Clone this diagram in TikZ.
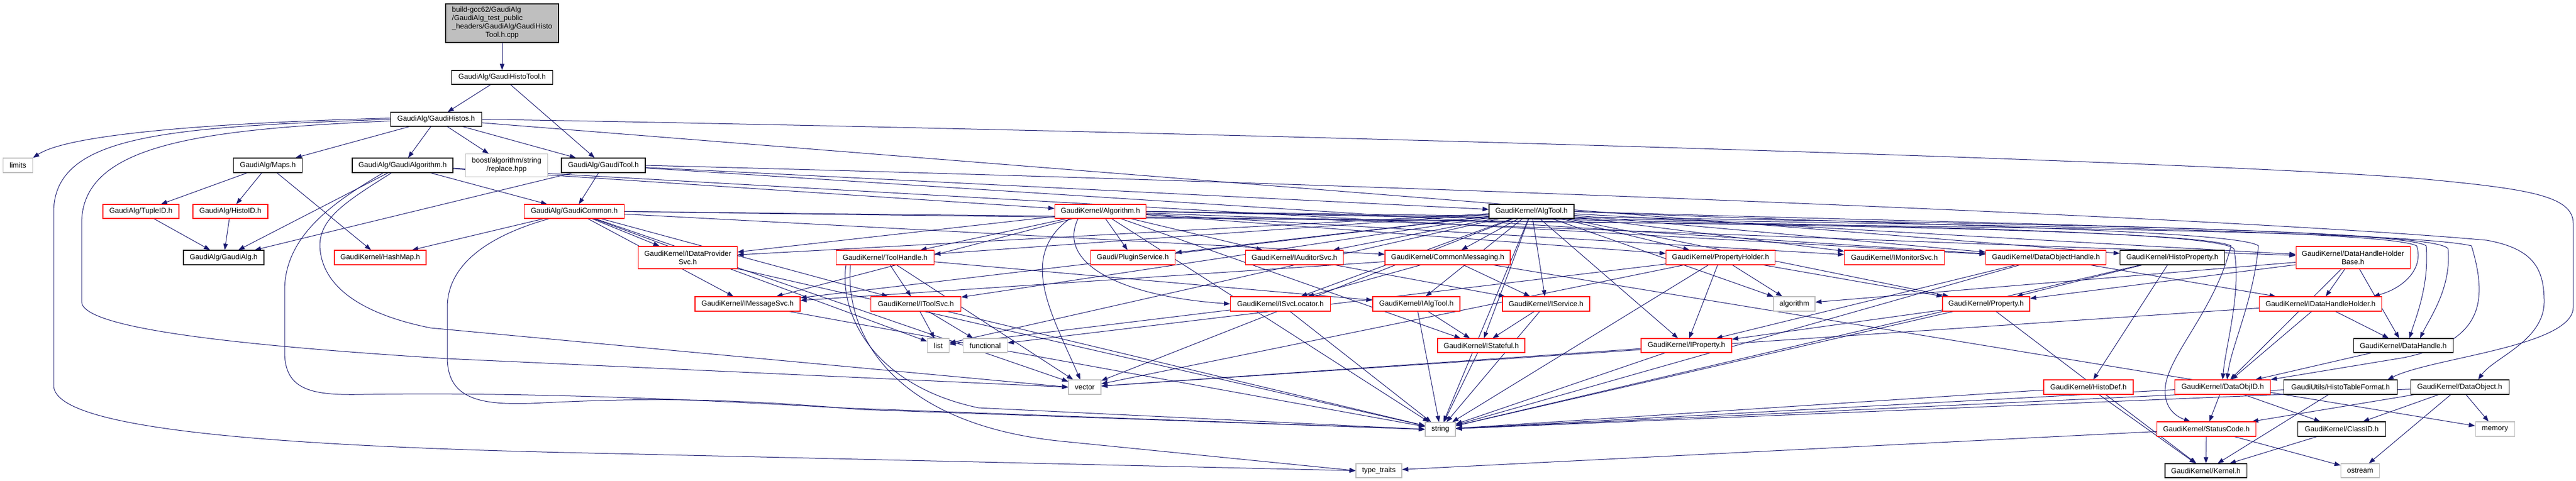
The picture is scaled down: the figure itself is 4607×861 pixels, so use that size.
\documentclass[tikz,border=0pt]{standalone}
\usepackage{fontspec}
\setmainfont{Liberation Sans}
\usetikzlibrary{arrows.meta,backgrounds}
\definecolor{eb}{HTML}{191970}
\definecolor{gb}{HTML}{BFBFBF}
\definecolor{rb}{HTML}{FF0000}
\begin{document}
\begin{tikzpicture}[x=1pt,y=-1pt,
  box/.style={draw, fill=white, line width=1.1pt, inner sep=0pt, font=\fontsize{13}{15}\selectfont, minimum height=25pt, align=center},
  blk/.style={box, draw=black},
  rd/.style={box, draw=rb},
  gry/.style={box, draw=gb},
  rootst/.style={box, draw=black, fill=gb},
  dep/.style={draw=eb, line width=1pt, -{Triangle[length=11pt,width=8pt]}}]
\useasboundingbox (0,0) rectangle (4607,861);
% nodes
\node[rootst, minimum width=202pt, minimum height=69pt] (root) at (898,41.5) {\begin{tabular}{@{}l@{}}build-gcc62/GaudiAlg\\/GaudiAlg\_test\_public\\\_headers/GaudiAlg/GaudiHisto\\\multicolumn{1}{@{}c@{}}{Tool.h.cpp}\end{tabular}};
\node[blk, minimum width=181pt] (ght) at (898,138.5) {GaudiAlg/GaudiHistoTool.h};
\node[blk, minimum width=163pt] (gh) at (780,213.5) {GaudiAlg/GaudiHistos.h};
\node[gry, minimum width=53pt, minimum height=26pt] (lim) at (32,296) {limits};
\node[blk, minimum width=123pt, minimum height=26pt] (maps) at (479,296) {GaudiAlg/Maps.h};
\node[blk, minimum width=180pt, minimum height=26pt] (galgo) at (720,296) {GaudiAlg/GaudiAlgorithm.h};
\node[gry, minimum width=147pt, minimum height=41pt] (boost) at (906,296) {boost/algorithm/string\\/replace.hpp};
\node[blk, minimum width=150pt, minimum height=26pt] (gt) at (1079,296) {GaudiAlg/GaudiTool.h};
\node[rd, minimum width=136pt] (tid) at (252,378.5) {GaudiAlg/TupleID.h};
\node[rd, minimum width=134pt] (hid) at (412,378.5) {GaudiAlg/HistoID.h};
\node[rd, minimum width=179pt] (gc) at (1027,378.5) {GaudiAlg/GaudiCommon.h};
\node[rd, minimum width=163pt] (alg) at (1968,378.5) {GaudiKernel/Algorithm.h};
\node[blk, minimum width=152pt] (atool) at (2739,378.5) {GaudiKernel/AlgTool.h};
\node[blk, minimum width=144pt, minimum height=26pt] (galg) at (400,461) {GaudiAlg/GaudiAlg.h};
\node[rd, minimum width=164pt, minimum height=26pt] (hmap) at (680,461) {GaudiKernel/HashMap.h};
\node[rd, minimum width=177pt, minimum height=40pt] (idps) at (1230,461) {GaudiKernel/IDataProvider\\Svc.h};
\node[rd, minimum width=175pt, minimum height=26pt] (th) at (1583,461) {GaudiKernel/ToolHandle.h};
\node[rd, minimum width=151pt, minimum height=26pt] (plug) at (2026,461) {Gaudi/PluginService.h};
\node[rd, minimum width=175pt, minimum height=26pt] (iaud) at (2315,461) {GaudiKernel/IAuditorSvc.h};
\node[rd, minimum width=224pt, minimum height=26pt] (cm) at (2589,461) {GaudiKernel/CommonMessaging.h};
\node[rd, minimum width=195pt, minimum height=26pt] (ph) at (3077,461) {GaudiKernel/PropertyHolder.h};
\node[rd, minimum width=179pt, minimum height=26pt] (imon) at (3388,461) {GaudiKernel/IMonitorSvc.h};
\node[rd, minimum width=215pt, minimum height=26pt] (doh) at (3659,461) {GaudiKernel/DataObjectHandle.h};
\node[blk, minimum width=187pt, minimum height=26pt] (hprop) at (3885,461) {GaudiKernel/HistoProperty.h};
\node[rd, minimum width=204pt, minimum height=40pt] (dhhb) at (4208,461) {GaudiKernel/DataHandleHolder\\Base.h};
\node[rd, minimum width=188pt, minimum height=26pt] (imsg) at (1337,544) {GaudiKernel/IMessageSvc.h};
\node[rd, minimum width=161pt, minimum height=26pt] (its) at (1638,544) {GaudiKernel/IToolSvc.h};
\node[rd, minimum width=179pt, minimum height=26pt] (isl) at (2290,544) {GaudiKernel/ISvcLocator.h};
\node[rd, minimum width=156pt, minimum height=26pt] (ialg) at (2533,544) {GaudiKernel/IAlgTool.h};
\node[rd, minimum width=156pt, minimum height=26pt] (isv) at (2765,544) {GaudiKernel/IService.h};
\node[gry, minimum width=74pt, minimum height=26pt] (algo) at (3209,544) {algorithm};
\node[rd, minimum width=156pt, minimum height=26pt] (prop) at (3552,544) {GaudiKernel/Property.h};
\node[rd, minimum width=219pt, minimum height=26pt] (idhh) at (4150,544) {GaudiKernel/IDataHandleHolder.h};
\node[gry, minimum width=39pt] (list) at (1678,618.5) {list};
\node[gry, minimum width=79pt] (func) at (1762,618.5) {functional};
\node[rd, minimum width=156pt] (ist) at (2649,618.5) {GaudiKernel/IStateful.h};
\node[rd, minimum width=162pt] (iprop) at (3016,618.5) {GaudiKernel/IProperty.h};
\node[blk, minimum width=178pt] (dh) at (4298,618.5) {GaudiKernel/DataHandle.h};
\node[gry, minimum width=58pt, minimum height=26pt] (vec) at (1940,693) {vector};
\node[rd, minimum width=160pt, minimum height=26pt] (hdef) at (3735,693) {GaudiKernel/HistoDef.h};
\node[rd, minimum width=171pt, minimum height=26pt] (doid) at (3975,693) {GaudiKernel/DataObjID.h};
\node[blk, minimum width=203pt, minimum height=26pt] (htf) at (4186,693) {GaudiUtils/HistoTableFormat.h};
\node[blk, minimum width=176pt, minimum height=26pt] (dobj) at (4399,693) {GaudiKernel/DataObject.h};
\node[gry, minimum width=54pt] (str) at (2576,768.5) {string};
\node[rd, minimum width=177pt, minimum height=26pt] (sc) at (3946,768) {GaudiKernel/StatusCode.h};
\node[blk, minimum width=157pt, minimum height=26pt] (cid) at (4188,768) {GaudiKernel/ClassID.h};
\node[gry, minimum width=70pt, minimum height=26pt] (mem) at (4462,768) {memory};
\node[gry, minimum width=82pt] (tt) at (2466,842.5) {type\_traits};
\node[blk, minimum width=146pt] (kern) at (3945,842.5) {GaudiKernel/Kernel.h};
\node[gry, minimum width=69pt] (ost) at (4221,842.5) {ostream};
% edges
\begin{scope}[on background layer]
\draw[dep] (root) -- (ght);
\draw[dep] (ght) -- (gh);
\draw[dep] (ght) -- (gt);
\draw[dep] ([yshift=2pt]gh.west) .. controls (450,218) and (130,235) .. (lim.north east);
\draw[dep] (gh) -- (maps);
\draw[dep] (gh) -- (galgo);
\draw[dep] (gh) -- (boost);
\draw[dep] (gh) -- (gt);
\draw[dep] (gh.west) .. controls (300,228) and (96,240) .. (96,380) -- (96,690) .. controls (96,770) and (500,800) .. (1100,812) -- (tt.west);
\draw[dep] ([yshift=-3pt]gh.west) .. controls (350,232) and (146,260) .. (146,400) -- (146,540) .. controls (146,590) and (450,620) .. (800,642) -- (vec.west);
\draw[dep] (gh.east) .. controls (2000,232) and (3900,285) .. (4330,320) .. controls (4520,338) and (4602,350) .. (4602,400) -- (4602,550) .. controls (4602,620) and (4350,640) .. ([xshift=84pt]htf.north);
\draw[dep] (gh) -- (hprop);
\draw[dep] (maps) -- (tid);
\draw[dep] (maps) -- (hid);
\draw[dep] (maps) -- (hmap);
\draw[dep] (tid) -- (galg);
\draw[dep] (hid) -- (galg);
\draw[dep] (galgo) -- (galg);
\draw[dep] (galgo) -- (gc);
\draw[dep] (galgo) -- (alg);
\draw[dep] (galgo) -- (doh);
\draw[dep] ([xshift=-35pt]galgo.south) .. controls (600,360) and (509,420) .. (509,520) -- (509,630) .. controls (509,700) and (560,708) .. (650,706) .. controls (900,702) and (1200,712) .. (1500,730) -- (str.west);
\draw[dep] ([xshift=-20pt]galgo.south) .. controls (620,360) and (572,390) .. (572,440) .. controls (575,520) and (660,565) .. (770,587) -- (vec.west);
\draw[dep] (gt) -- (galg);
\draw[dep] (gt) -- (gc);
\draw[dep] (gt) -- (atool);
\draw[dep] (gt) -- (doh);
\draw[dep] (gt.east) .. controls (2500,330) and (4000,390) .. (4447,430) .. controls (4530,445) and (4550,480) .. (4550,540) .. controls (4550,610) and (4460,640) .. ([xshift=33pt]dobj.north);
\draw[dep] (gc) -- (hmap);
\draw[dep] (gc) -- (idps);
\draw[dep] (gc) -- (imsg);
\draw[dep] (gc) -- (its);
\draw[dep] (gc) -- (list);
\draw[dep] (gc) -- (vec);
\draw[dep] ([xshift=-45pt]gc.south) .. controls (880,420) and (800,470) .. (800,550) -- (800,640) .. controls (800,715) and (860,725) .. (950,722) .. controls (1100,715) and (1250,708) .. (1538,733) -- (str.west);
\draw[dep] (gc) -- (cm);
\draw[dep] (gc.east) .. controls (2500,400) and (4250,400) .. (4420,440) .. controls (4450,540) and (4440,610) .. (4300,640) -- (doid.north east);
\draw[dep] (gc.east) .. controls (2500,395) and (3900,400) .. (3990,440) .. controls (3960,560) and (3872,640) .. (3872,700) .. controls (3872,730) and (3890,745) .. ([xshift=-29pt]sc.north);
\draw[dep] (alg) -- (idps);
\draw[dep] (alg) -- (imsg);
\draw[dep] (alg) -- (th);
\draw[dep] ([xshift=-55pt]alg.south) .. controls (1820,460) and (1880,560) .. ([xshift=-8pt]vec.north);
\draw[dep] (alg) -- (plug);
\draw[dep] (alg) -- (iaud);
\draw[dep] ([xshift=-40pt]alg.south) .. controls (1890,470) and (2000,530) .. (isl.west);
\draw[dep] (alg) -- (ist);
\draw[dep] (alg) -- (str);
\draw[dep] (alg) -- (ph);
\draw[dep] (alg) -- (imon);
\draw[dep] (alg) -- (dhhb);
\draw[dep] (alg.east) .. controls (3200,400) and (4250,405) .. (4322,440) .. controls (4335,480) and (4300,515) .. ([xshift=95pt]idhh.north);
\draw[dep] (alg.east) .. controls (3300,395) and (4350,405) .. (4378,445) .. controls (4385,515) and (4345,570) .. ([xshift=30pt]dh.north);
\draw[dep] (alg.east) .. controls (3000,400) and (3950,405) .. (3995,445) .. controls (4010,520) and (3980,620) .. (doid.north);
\draw[dep] (atool) -- (idps);
\draw[dep] (atool) -- (imsg);
\draw[dep] (atool) -- (th);
\draw[dep] (atool) -- (its);
\draw[dep] (atool) -- (list);
\draw[dep] (atool) -- (plug);
\draw[dep] (atool) -- (iaud);
\draw[dep] (atool) -- (cm);
\draw[dep] (atool) -- (isl);
\draw[dep] (atool) -- (ialg);
\draw[dep] (atool) -- (isv);
\draw[dep] (atool) -- (ist);
\draw[dep] (atool) -- (str);
\draw[dep] (atool) -- (ph);
\draw[dep] (atool) -- (iprop);
\draw[dep] (atool) -- (imon);
\draw[dep] (atool) -- (doh);
\draw[dep] (atool) -- (algo);
\draw[dep] (atool) -- (prop);
\draw[dep] (atool) -- (dhhb);
\draw[dep] (atool) -- (vec);
\draw[dep] (atool.east) .. controls (3500,400) and (4300,410) .. (4339,440) .. controls (4345,510) and (4320,570) .. ([xshift=11pt]dh.north);
\draw[dep] (atool.east) .. controls (3300,400) and (4000,410) .. (4039,440) .. controls (4030,540) and (3990,620) .. ([xshift=8pt]doid.north);
\draw[dep] (th) -- (its);
\draw[dep] (th) -- (ialg);
\draw[dep] (th) -- (vec);
\draw[dep] ([xshift=-70pt]th.south) .. controls (1500,560) and (1560,690) .. (1750,730) -- (str.west);
\draw[dep] ([xshift=-62pt]th.south) .. controls (1510,600) and (1600,760) .. (1900,790) -- (tt.west);
\draw[dep] (its) -- (list);
\draw[dep] (its) -- (func);
\draw[dep] (its) -- (str);
\draw[dep] (idps) -- (str);
\draw[dep] (imsg) -- (str);
\draw[dep] (cm) -- (imsg);
\draw[dep] (cm) -- (isl);
\draw[dep] (cm) -- (isv);
\draw[dep] (cm) -- (mem);
\draw[dep] (iaud) -- (isv);
\draw[dep] (isl) -- (list);
\draw[dep] (isl) -- (str);
\draw[dep] (ialg) -- (ist);
\draw[dep] (ialg) -- (str);
\draw[dep] (isv) -- (ist);
\draw[dep] (isv) -- (str);
\draw[dep] (ist) -- (str);
\draw[dep] (ph) -- (func);
\draw[dep] (ph) -- (vec);
\draw[dep] (ph) -- (str);
\draw[dep] (ph) -- (algo);
\draw[dep] (ph) -- (iprop);
\draw[dep] (ph) -- (prop);
\draw[dep] (iprop) -- (str);
\draw[dep] (iprop) -- (vec);
\draw[dep] (prop) -- (iprop);
\draw[dep] (prop) -- (str);
\draw[dep] (prop) -- (kern);
\draw[dep] (hprop) -- (prop);
\draw[dep] (hprop) -- (hdef);
\draw[dep] (hprop) -- (str);
\draw[dep] (hdef) -- (str);
\draw[dep] (hdef) -- (kern);
\draw[dep] (doh) -- (iprop);
\draw[dep] (doh) -- (str);
\draw[dep] (doh) -- (idhh);
\draw[dep] (dhhb) -- (idhh);
\draw[dep] (dhhb) -- (dh);
\draw[dep] (dhhb) -- (doid);
\draw[dep] (dhhb) -- (prop);
\draw[dep] (dhhb) -- (algo);
\draw[dep] (idhh) -- (dh);
\draw[dep] (idhh) -- (doid);
\draw[dep] (idhh) -- (vec);
\draw[dep] (dh) -- (doid);
\draw[dep] (doid) -- (sc);
\draw[dep] (doid) -- (cid);
\draw[dep] (doid) -- (str);
\draw[dep] (htf) -- (kern);
\draw[dep] (htf) -- (str);
\draw[dep] (dobj) -- (sc);
\draw[dep] (dobj) -- (cid);
\draw[dep] (dobj) -- (mem);
\draw[dep] (dobj) -- (ost);
\draw[dep] (dobj) -- (str);
\draw[dep] (sc) -- (kern);
\draw[dep] (sc) -- (ost);
\draw[dep] (sc) -- (tt);
\draw[dep] (cid) -- (kern);
\end{scope}
\end{tikzpicture}
\end{document}
